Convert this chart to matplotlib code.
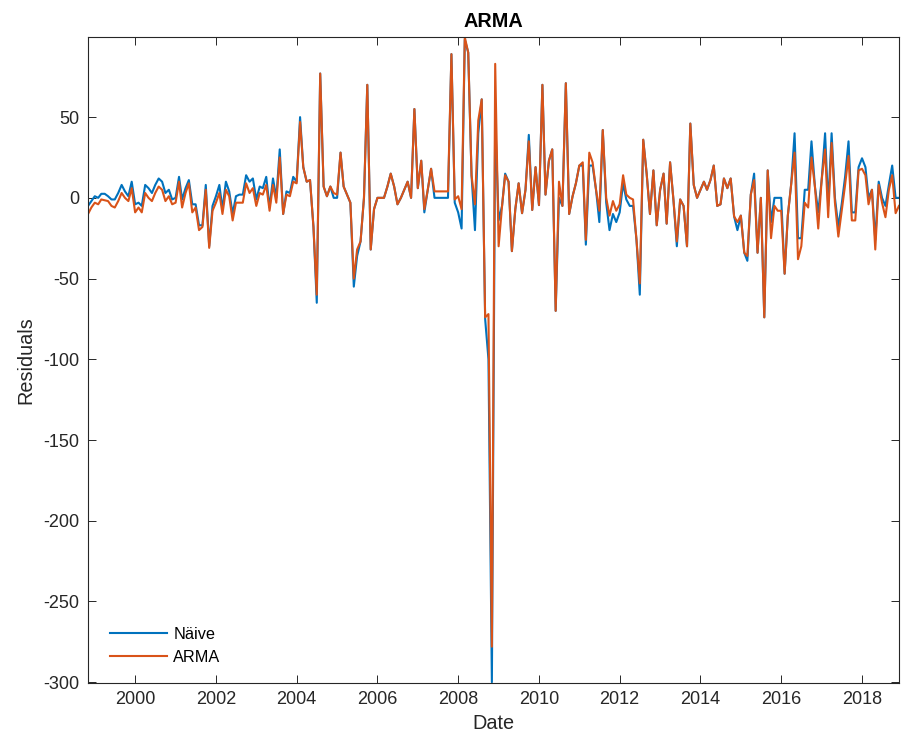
import matplotlib
matplotlib.use("Agg")
import matplotlib.pyplot as plt
import matplotlib.dates as mdates
import pandas as pd

start_month = "1998-11-01"

naive = [
    -5, -2, 1, 0, 2.5, 2.5, 1, -1, -1, 3,
    8, 4, 1, 10, -4, -3, -5, 8, 6, 3,
    8, 12, 10, 3, 5, -1, 0, 13, -1, 6,
    11, -4, -4, -17, -17, 8, -30, -5, 1, 8,
    -7, 10, 4, -10, 1, 2, 2, 14, 10, 12,
    -1, 7, 6, 13, -6, 12, 0, 30, -10, 4,
    3, 13, 10, 50, 19, 10, 11, -18, -65, 77,
    7, 1, 7, 0, 0, 28, 7, 2, -3, -55,
    -36, -27, 0, 70, -32, -7, 0, 0, 0, 7,
    15, 7, -4, 0, 5, 10, 0, 55, 6, 23,
    -9, 5, 18, 0, 0, 0, 0, 0, 89, -3,
    -9, -19, 98, 90, 14, -20, 40, 61, -75, -100,
    -300, 50, -14, -5, 15, 10, -33, -7, 9, -9.5,
    5, 39, -7.5, 19, -4.5, 70, 2, 23, 30, -70,
    0, -5, 71, -10, 1, 9, 20, 20, -29, 20,
    20, 5, -15, 42, -3, -20, -10, -15, -9, 9,
    -1, -5, -5, -26, -60, 36, 15, -10, 17, -17,
    5, 15, -16, 22, -1, -30, -1, -5, -30, 46,
    8, 0, 5, 10, 5, 11, 20, -5, -4, 12,
    6, 12, -11.5, -20, -11, -34, -39, 2, 15, -34,
    0, -74, 17, -15, 0, 0, 0, -47, -11, 9,
    40, -25, -25, 5, 5, 35, 7, -9, 11, 40,
    -5, 40, 0, -18, -4, 13, 35, -9, -9, 19,
    24.5, 19, 0, 5, -26, 10, 0, -5, 8, 20,
    0, 0,
]

arma = [
    -10, -6, -3, -4, -1, -1.5, -2, -5, -6, -2,
    3, 0, -2, 6, -9, -6, -9, 3, 0, -2,
    3, 7, 5, -2, 1, -4, -3, 10, -6, 3,
    9, -9, -6, -20, -18, 5, -31, -8, -3, 3,
    -10, 5, 1, -14, -3, -3, -3, 9, 3, 6,
    -5, 3, 2, 8, -8, 8, -3, 25, -10, 2,
    1, 10, 9, 47, 19, 10, 11, -18, -60, 77,
    7, 1, 7, 3, 2, 28, 7, 2, -3, -50,
    -32, -27, 0, 70, -32, -7, 0, 0, 0, 7,
    15, 7, -4, 0, 5, 10, 0, 55, 6, 23,
    -7, 5, 18, 4, 4, 4, 4, 4, 89, -1,
    1, -7, 99.5, 90, 14, -4, 48, 61, -74, -72,
    -278, 83, -30, -5, 14, 10, -33, -7, 9, -9.5,
    5, 35, -7.5, 19, -4.5, 70, 2, 23, 30, -70,
    10, -5, 71, -10, 1, 9, 20, 22, -26, 28,
    22, 5, -8, 42, 0, -11, -2, -8, -4, 14,
    2, 0, -1, -26, -53, 36, 15, -10, 17, -17,
    5, 15, -16, 22, -1, -27, -1, -5, -30, 46,
    8, 0, 5, 10, 5, 11, 20, -5, -4, 12,
    6, 12, -11.5, -15, -11, -34, -36, 2, 11, -34,
    0, -74, 17, -25, -5, -8, -8, -47, -11, 9,
    28, -38, -30, -3, -6, 25, 7, -19, 11, 30,
    -12, 34, -3, -24, -8, 8, 26, -14, -14, 17,
    18, 14, -4, 5, -32, 8, -3, -12, 5, 14,
    -9.5, -5,
]

series_names = ["Näive", "ARMA"]
y_ticks = [-300, -250, -200, -150, -100, -50, 0, 50]

dates = pd.date_range(start_month, periods=len(naive), freq="MS")

plt.rcParams["font.family"] = ["Liberation Sans", "DejaVu Sans"]
plt.rcParams["axes.unicode_minus"] = False
txt = "#262626"

fig = plt.figure(figsize=(9.02, 7.44), dpi=100)
ax = fig.add_axes([0.0976, 0.082, 0.899, 0.868])

ax.plot(dates, naive, color="#0072BD", lw=1.5, label=series_names[0])
ax.plot(dates, arma, color="#D95319", lw=1.5, label=series_names[1])

ax.set_xlim(dates[0], dates[-1])
ax.set_ylim(-300.5, 99.5)
ax.set_yticks(y_ticks)
ax.xaxis.set_major_locator(mdates.YearLocator(2))
ax.xaxis.set_major_formatter(mdates.DateFormatter("%Y"))

ax.tick_params(direction="in", length=6, width=0.7, colors=txt, labelsize=13,
               top=True, right=True, pad=6)
for s in ax.spines.values():
    s.set_color(txt)
    s.set_linewidth(0.8)

ax.set_title("ARMA", fontsize=14.3, fontweight="bold", color="black", pad=7)
ax.set_xlabel("Date", fontsize=14.3, color=txt, labelpad=4)
ax.set_ylabel("Residuals", fontsize=14.3, color=txt, labelpad=6)

leg = ax.legend(loc="lower left", bbox_to_anchor=(0.027, 0.028), frameon=False,
                fontsize=11.7, handlelength=3.5, handletextpad=0.4,
                labelspacing=0.5, borderaxespad=0, borderpad=0)
for t in leg.get_texts():
    t.set_color("black")

fig.savefig("out.png", dpi=100)
